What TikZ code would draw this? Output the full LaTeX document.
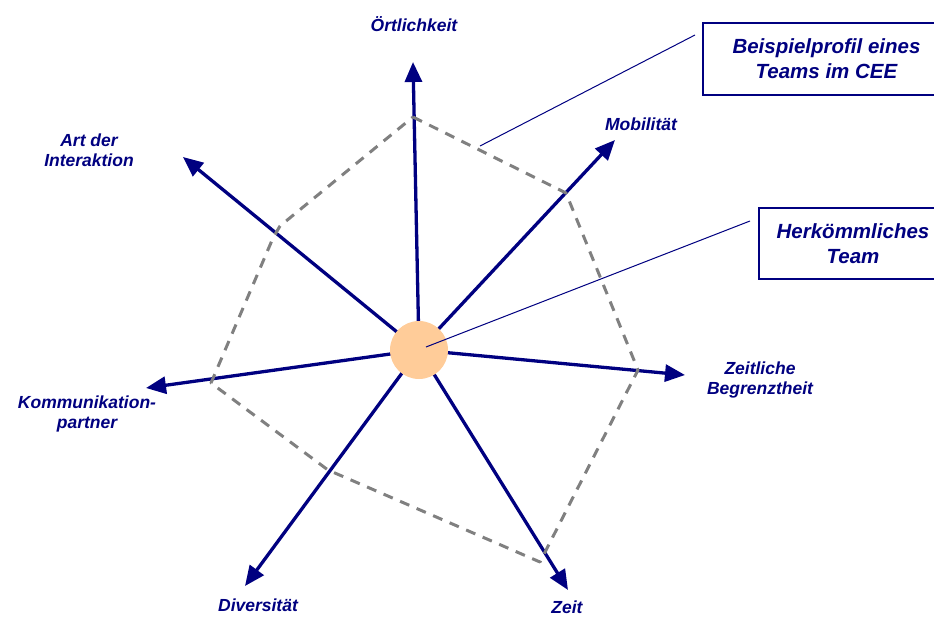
\documentclass[tikz,border=0pt]{standalone}
\usepackage{fontspec}
\setmainfont{Liberation Sans}
\usetikzlibrary{arrows.meta}
\definecolor{navy}{RGB}{0,0,128}
\definecolor{peach}{RGB}{255,204,153}
\definecolor{dashgrey}{RGB}{128,128,128}

\begin{document}
\begin{tikzpicture}[x=1pt,y=-1pt,
    axis/.style={navy,line width=3.3pt,-{Triangle[length=20pt,width=17pt]}},
    axlabel/.style={text=navy,font=\fontsize{17.5}{20}\selectfont\bfseries\itshape,align=center,inner sep=0pt},
    legendbox/.style={draw=navy,line width=1.2pt,text=navy,font=\fontsize{20.5}{25}\selectfont\bfseries\itshape,align=center,inner sep=0pt},
    leader/.style={navy,line width=1pt},
    profile/.style={dashgrey,line width=3pt,dash pattern=on 10pt off 8pt,line join=round}]
    \useasboundingbox (0,0) rectangle (934,616);

    % axes
    \coordinate (o) at (419,350);
    \coordinate (tort) at (413,62);
    \coordinate (tmob) at (615,140);
    \coordinate (tbeg) at (685,375);
    \coordinate (tzeit) at (568,590);
    \coordinate (tdiv) at (245,586);
    \coordinate (tkom) at (146,388);
    \coordinate (tart) at (183,157);

    \foreach \t in {tort,tmob,tbeg,tzeit,tdiv,tkom,tart}
        \draw[axis] (o) -- (\t);

    % profile of the CEE team
    \draw[profile] (413,117) -- (566,193) -- (638,370) -- (540,562) -- (328,470)
        -- (211,383) -- (273,238) -- (280,226) -- cycle;

    \node[circle,fill=peach,minimum size=58pt,inner sep=0pt] (hub) at (o) {};

    % labels
    \node[axlabel] (ort) at (414,24) {Örtlichkeit};
    \node[axlabel] (mob) at (641,124) {Mobilität};
    \node[axlabel] (beg) at (760,380) {Zeitliche\\Begrenztheit};
    \node[axlabel] (zeit) at (567,607) {Zeit};
    \node[axlabel] (div) at (258,605) {Diversität};
    \node[axlabel] (kom) at (87,414) {Kommunikation-\\partner};
    \node[axlabel] (art) at (89,150) {Art der\\Interaktion};

    % legend
    \node[legendbox,minimum width=247pt,minimum height=72pt] (cee) at (826.5,59) {Beispielprofil eines\\Teams im CEE};
    \node[legendbox,minimum width=188pt,minimum height=71pt] (herk) at (853,243.5) {Herkömmliches\\Team};

    \coordinate (p1) at (480,146);
    \coordinate (p2) at (695,35);
    \coordinate (h1) at (426,347);
    \coordinate (h2) at (750,221);
    \draw[leader] (p1) -- (p2);
    \draw[leader] (h1) -- (h2);
\end{tikzpicture}
\end{document}
